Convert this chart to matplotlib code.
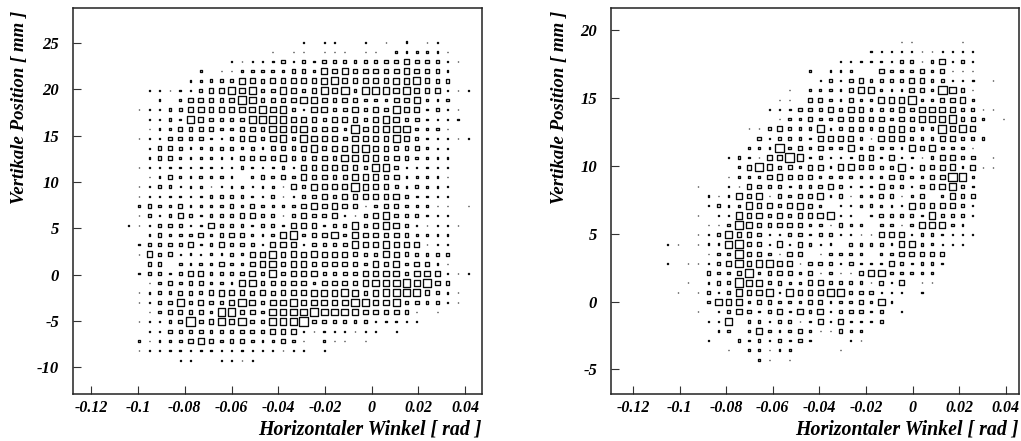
import numpy as np
import matplotlib
matplotlib.use('Agg')
import matplotlib.pyplot as plt

# box sizes, one digit per cell, 0 = empty. top row first
left_rows = [
    "0000000000" "0000000101" "1001010201" "1000",
    "0000000000" "0000111111" "1101112222" "2100",
    "0000000000" "1111242324" "3333344644" "4210",
    "0000000211" "1333324436" "5655555655" "4200",
    "0000002233" "3654555556" "7555556675" "4400",
    "0011121355" "7674476457" "6837876755" "6211",
    "0102125554" "5874445765" "4553335563" "2300",
    "0112336655" "5667673266" "3463547552" "3110",
    "0012327544" "4477776553" "5554676442" "2120",
    "0012344443" "3554776755" "5285667732" "3100",
    "0111444421" "3564673765" "6466657532" "2211",
    "0014432233" "3232444574" "5577554442" "1100",
    "0124422232" "2445464455" "4766655433" "2210",
    "0112222222" "2322232655" "5554774212" "2100",
    "0012422323" "2124353655" "4476655222" "2100",
    "0113312211" "2212215365" "5586553232" "2100",
    "0121222233" "3322312445" "4555556422" "2100",
    "0243342233" "4343223565" "6541344322" "1101",
    "0142353234" "4553314544" "5113674332" "2100",
    "1123432263" "4323325552" "3374576411" "1110",
    "0124333534" "5522368345" "7365555422" "2200",
    "0234435236" "4432565243" "4476675551" "1200",
    "0163412122" "3255756565" "5543365433" "3300",
    "0144132335" "3356746655" "5553656355" "2110",
    "0234235533" "3464745663" "4445666466" "6211",
    "0113434423" "2674445525" "5556777868" "5410",
    "0123344356" "5545455566" "6764677775" "3210",
    "0124474544" "5863668666" "6688667443" "3110",
    "0013544438" "8553777787" "7775555411" "1000",
    "0112349457" "5843777944" "4333222110" "0000",
    "0011434434" "4444555212" "1111101000" "0000",
    "0212335653" "4432253112" "1111000000" "0000",
    "0111222221" "1211111101" "0000000000" "0000",
    "0000011001" "1110000000" "0000000000" "0000",
]
right_rows = [
    "0000000000" "0000000000" "0001111001" "0000",
    "0000000000" "0000000000" "2111111111" "1000",
    "0000000000" "0000000112" "2223313623" "1000",
    "0000000000" "0000202221" "1533343411" "1000",
    "0000000000" "0000013245" "3333553312" "2010",
    "0000000000" "0011223247" "6222553974" "1000",
    "0000000000" "0110443243" "2666833456" "2100",
    "0000000000" "2124436365" "3336466664" "3110",
    "0000000001" "0133433545" "5535466684" "4301",
    "0000000011" "3533372344" "3466433857" "5000",
    "0000000004" "2333255653" "1655333553" "3300",
    "0000000023" "2935253363" "5332656333" "1100",
    "0000001321" "6597232225" "5252213553" "4010",
    "0000000258" "6342552664" "4337154562" "5110",
    "0000001233" "5644423333" "3254334598" "2000",
    "0001002154" "4423345312" "2533145684" "2000",
    "0000212646" "1434462412" "3441241264" "4000",
    "0000132275" "5356420112" "3221655553" "1000",
    "0001022756" "4535567210" "2433327334" "1000",
    "0000113875" "4555331422" "1331367632" "0000",
    "0001138554" "2234233211" "1556133221" "1000",
    "1101227844" "1615312033" "3326632111" "0000",
    "0010133844" "3155113332" "1235554400" "0000",
    "1011136857" "8551443142" "2254233200" "0000",
    "0000433593" "4543513114" "7733332000" "0000",
    "0010243966" "3422553333" "1415011000" "0000",
    "0101323756" "7175557734" "4121020000" "0000",
    "0000376734" "4333442335" "2720000000" "0000",
    "0001024642" "4626361344" "2301000000" "0000",
    "0000127033" "2431252522" "2300000000" "0000",
    "0001023136" "3235211422" "1000000000" "0000",
    "0000100323" "1324200011" "0000000000" "0000",
    "0000001122" "1220100100" "0000000000" "0000",
    "0000000102" "1011000000" "0000000000" "0000",
]

# first and last bin centres of the 34x34 histograms
left_x_bins = (-0.1040, 0.0414)
left_y_bins = (25.1, -9.25)
right_x_bins = (-0.1051, 0.0389)
right_y_bins = (19.13, -4.3)

left_xlim = (-0.1279, 0.0473)
left_ylim = (-12.9, 28.8)
right_xlim = (-0.1294, 0.0455)
right_ylim = (-6.82, 21.64)

x_ticks = [-0.12, -0.1, -0.08, -0.06, -0.04, -0.02, 0, 0.02, 0.04]
x_tick_labels = ['-0.12', '-0.1', '-0.08', '-0.06', '-0.04', '-0.02', '0', '0.02', '0.04']
left_y_ticks = [-10, -5, 0, 5, 10, 15, 20, 25]
right_y_ticks = [-5, 0, 5, 10, 15, 20]

W, H = 1021, 441
plt.rcParams['font.family'] = ['Liberation Serif', 'DejaVu Serif']
plt.rcParams['font.weight'] = 'bold'
plt.rcParams['font.style'] = 'italic'
plt.rcParams['axes.labelweight'] = 'bold'


def draw_boxes(ax, rows, x_bins, y_bins):
    xc = np.linspace(x_bins[0], x_bins[1], 34)
    yc = np.linspace(y_bins[0], y_bins[1], 34)
    grid = np.array([[int(ch) for ch in row] for row in rows], dtype=float)
    rr, cc = np.nonzero(grid)
    d = grid[rr, cc]
    # side in points, the edge adds about one pixel around it
    side = (d - 0.4) * 72 / 100
    ax.scatter(xc[cc], yc[rr], s=side ** 2, marker='s', facecolors='none',
               edgecolors='#0a0a0a', linewidths=0.95)


def setup_panel(box, xlim, ylim, y_ticks, ylabel_x):
    # box is left, right, top, bottom in pixels
    ax = plt.gcf().add_axes([box[0] / W, 1 - box[3] / H, (box[1] - box[0]) / W, (box[3] - box[2]) / H])
    ax.set_xlim(xlim)
    ax.set_ylim(ylim)
    ax.set_xticks(x_ticks)
    ax.set_xticklabels(x_tick_labels)
    ax.set_yticks(y_ticks)
    ax.set_yticklabels([str(t) for t in y_ticks])
    ax.tick_params(axis='x', direction='in', length=6, width=0.8, labelsize=11.5, pad=4, color='#333333')
    ax.tick_params(axis='y', direction='in', length=6, width=0.8, labelsize=12, pad=10, color='#333333')
    for spine in ax.spines.values():
        spine.set_linewidth(1.1)
        spine.set_color('#222222')
    ax.set_xlabel('Horizontaler Winkel [ rad ]', fontsize=14.3, ha='right')
    ax.xaxis.set_label_coords(1.0, -0.065)
    ax.set_ylabel('Vertikale Position [ mm ]', fontsize=13.5, ha='right')
    ax.yaxis.set_label_coords(ylabel_x, 0.992)
    return ax


fig = plt.figure(figsize=(W / 100, H / 100), dpi=100)

ax1 = setup_panel((73, 482, 8, 394), left_xlim, left_ylim, left_y_ticks, -0.11)
draw_boxes(ax1, left_rows, left_x_bins, left_y_bins)

ax2 = setup_panel((611, 1018.7, 8, 394), right_xlim, right_ylim, right_y_ticks, -0.105)
draw_boxes(ax2, right_rows, right_x_bins, right_y_bins)

fig.savefig('out.png', dpi=100)
